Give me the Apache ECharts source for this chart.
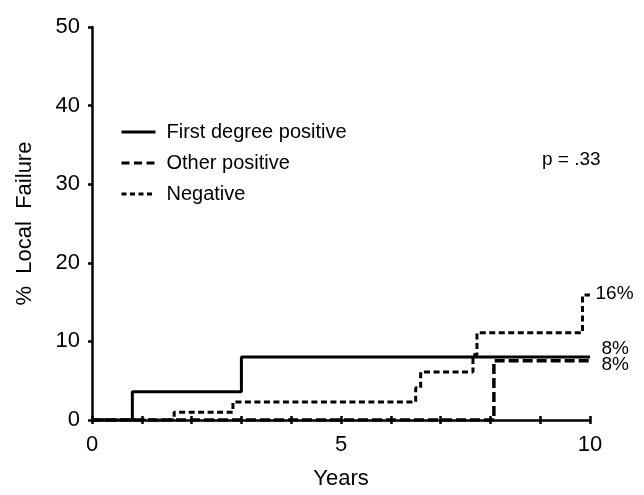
<!DOCTYPE html>
<html>
<head>
<meta charset="utf-8">
<script src="https://cdn.jsdelivr.net/npm/echarts@6/dist/echarts.min.js"></script>
<style>
html,body{margin:0;padding:0;background:#fff;}
#chart{width:644px;height:495px;}
</style>
</head>
<body>
<div id="chart"></div>
<script>
// ---- data (cumulative % local failure, step curves) ----
const seriesNames = ['First degree positive', 'Other positive', 'Negative'];
const firstTimes = [0, 0.81, 3.0, 10];
const firstRates = [0, 3.6, 8.0, 8.0];
const otherTimes = [0, 8.07, 10];
const otherRates = [0, 7.55, 7.55];
const negTimes = [0, 1.65, 2.83, 6.5, 6.6, 7.65, 7.73, 9.85, 10];
const negRates = [0, 1.0, 2.3, 4.1, 6.1, 8.3, 11.1, 15.9, 15.9];
const endLabels = ['8%', '8%', '16%'];
const xTickLabels = [0, 5, 10];
const yTickLabels = [0, 10, 20, 30, 40, 50];
const pValueText = 'p = .33';

const FONT = '"Liberation Sans", Arial, Helvetica, sans-serif';
const zip = (xs, ys) => xs.map((x, i) => [x, ys[i]]);
const NO_SYMBOL = {color: 'rgba(0,0,0,0)', borderColor: 'rgba(0,0,0,0)', borderWidth: 0};

const chart = echarts.init(document.getElementById('chart'), null, {renderer: 'canvas'});

function endMark(times, rates, text, dist, dy) {
  const n = times.length - 1;
  return {
    silent: true,
    symbol: 'circle',
    symbolSize: 1,
    itemStyle: {color: 'rgba(0,0,0,0)'},
    label: {
      show: true, position: 'right', distance: dist, offset: [0, dy],
      formatter: text, color: '#000', fontSize: 19, fontFamily: FONT
    },
    data: [{coord: [times[n], rates[n]]}]
  };
}

const option = {
  backgroundColor: '#fff',
  animation: false,
  textStyle: {fontFamily: FONT, color: '#000'},
  grid: {left: 92, right: 54, top: 27, bottom: 68, containLabel: false},
  legend: {
    orient: 'vertical',
    left: 115,
    top: 117,
    itemWidth: 34,
    itemHeight: 14,
    itemGap: 11,
    selectedMode: false,
    itemStyle: NO_SYMBOL,
    textStyle: {fontSize: 20, lineHeight: 20, color: '#000', fontFamily: FONT, padding: [0, 0, 0, 6]},
    data: [
      {name: seriesNames[0], itemStyle: NO_SYMBOL, lineStyle: {width: 3, type: 'solid', color: '#000'}},
      {name: seriesNames[1], itemStyle: NO_SYMBOL, lineStyle: {width: 3, type: [8, 4.5], color: '#000'}},
      {name: seriesNames[2], itemStyle: NO_SYMBOL, lineStyle: {width: 3, type: [5, 3.5], color: '#000'}}
    ]
  },
  xAxis: [{
    type: 'value', min: 0, max: 10, interval: 1,
    name: 'Years', nameLocation: 'middle', nameGap: 48,
    nameTextStyle: {fontSize: 22, color: '#000', fontFamily: FONT},
    axisLine: {show: true, onZero: false, lineStyle: {color: '#000', width: 2.5}},
    axisTick: {show: true, length: 4, lineStyle: {color: '#000', width: 2.5}},
    axisLabel: {
      fontSize: 22, color: '#000', margin: 14, fontFamily: FONT,
      formatter: v => (xTickLabels.indexOf(v) >= 0 ? String(v) : '')
    },
    splitLine: {show: false}
  }, {
    type: 'value', min: 0, max: 10, interval: 1, position: 'bottom',
    axisLine: {show: false},
    axisTick: {show: true, inside: true, length: 4, lineStyle: {color: '#000', width: 2.5}},
    axisLabel: {show: false},
    splitLine: {show: false}
  }],
  yAxis: {
    type: 'value', min: 0, max: 50, interval: 10,
    name: '%  Local  Failure', nameLocation: 'middle', nameGap: 56,
    nameTextStyle: {fontSize: 22, color: '#000', fontFamily: FONT},
    axisLine: {show: true, onZero: false, lineStyle: {color: '#000', width: 2.5}},
    axisTick: {show: true, length: 4, lineStyle: {color: '#000', width: 2.5}},
    axisLabel: {
      fontSize: 22, color: '#000', margin: 12, fontFamily: FONT,
      formatter: v => (yTickLabels.indexOf(v) >= 0 ? String(v) : '')
    },
    splitLine: {show: false}
  },
  graphic: [{
    type: 'text', left: 542, top: 150,
    style: {text: pValueText, fontSize: 19, fontFamily: FONT, fill: '#000'}
  }],
  series: [
    {
      name: seriesNames[0], type: 'line', step: 'end', symbol: 'none',
      xAxisIndex: 0, z: 3,
      lineStyle: {color: '#000', width: 3, type: 'solid', cap: 'butt'},
      itemStyle: {color: '#000'},
      data: zip(firstTimes, firstRates),
      markPoint: endMark(firstTimes, firstRates, endLabels[0], 11, -8)
    },
    {
      name: seriesNames[1], type: 'line', step: 'end', symbol: 'none',
      xAxisIndex: 0, z: 2,
      lineStyle: {color: '#000', width: 3.5, type: [10, 4], cap: 'butt'},
      itemStyle: {color: '#000'},
      data: zip(otherTimes, otherRates),
      markPoint: endMark(otherTimes, otherRates, endLabels[1], 11, 4)
    },
    {
      name: seriesNames[2], type: 'line', step: 'end', symbol: 'none',
      xAxisIndex: 0, z: 2,
      lineStyle: {color: '#000', width: 3, type: [6, 3.5], cap: 'butt'},
      itemStyle: {color: '#000'},
      data: zip(negTimes, negRates),
      markPoint: endMark(negTimes, negRates, endLabels[2], 5, -1)
    }
  ]
};
chart.setOption(option);
</script>
</body>
</html>
